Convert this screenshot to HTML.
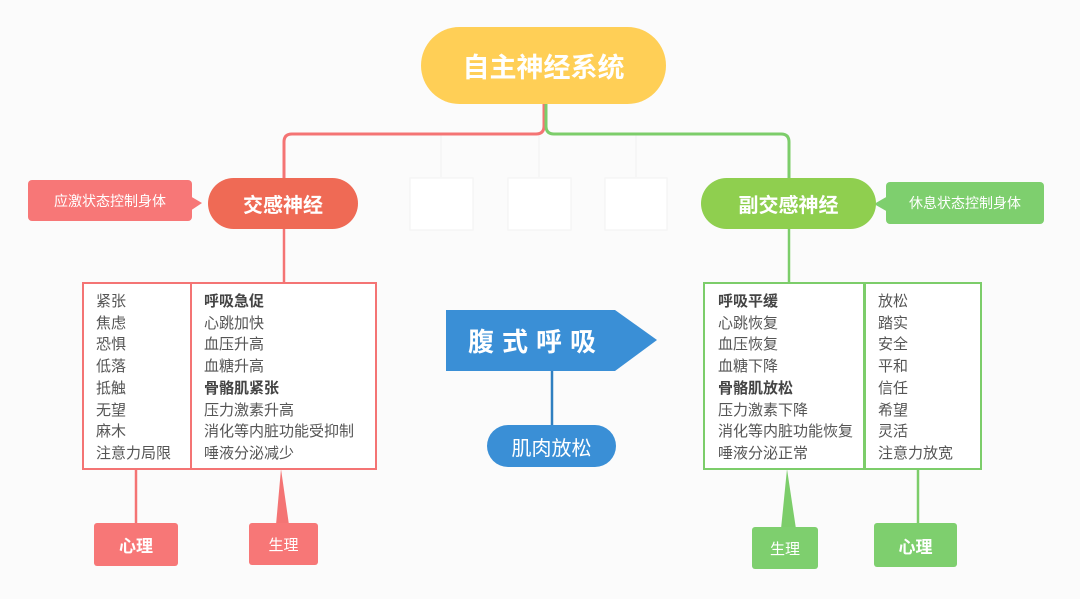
<!DOCTYPE html>
<html><head><meta charset="utf-8"><style>
body{margin:0;width:1080px;height:599px;background:#fbfbfb;overflow:hidden;font-family:"Liberation Sans","Noto Sans CJK SC",sans-serif;position:relative}
.a{position:absolute;box-sizing:border-box}
.c{display:flex;align-items:center;justify-content:center;color:#fff}
.box{position:absolute;box-sizing:border-box;background:#fff;font-size:15px;line-height:21.7px;color:#555;padding-top:7px}
b{color:#444}
</style></head><body>
<svg class="a" style="left:0;top:0" width="1080" height="599">
<g stroke="#f5f5f5" stroke-width="1.5" fill="none">
<path d="M441 134V178M539 134V178M636 134V178"/>
<rect x="410" y="178" width="63" height="52" fill="#fff"/><rect x="508" y="178" width="63" height="52" fill="#fff"/><rect x="605" y="178" width="62" height="52" fill="#fff"/>
</g>
<path d="M544 100V126Q544 134 536 134H292Q284 134 284 142V180" stroke="#f47474" stroke-width="3" fill="none"/>
<path d="M546 100V126Q546 134 554 134H781Q789 134 789 142V180" stroke="#7ccd6a" stroke-width="3" fill="none"/>
<path d="M284 229V283" stroke="#f47474" stroke-width="2.5"/>
<path d="M789 229V283" stroke="#7ccd6a" stroke-width="2.5"/>
<path d="M136 469V525" stroke="#f47474" stroke-width="2.5"/>
<path d="M281 469L276 525H289Z" fill="#f47474"/>
<path d="M918 469V525" stroke="#7ccd6a" stroke-width="2.5"/>
<path d="M787 469L781 529H796Z" fill="#7ccd6a"/>
<path d="M552 370V427" stroke="#2f7fc0" stroke-width="2.5"/>
<path d="M446 310H615L657 340L615 371H446Z" fill="#3a8fd6"/>
<path d="M190 196L202 203L190 211Z" fill="#f77777"/>
<path d="M888 196L874 204L888 212Z" fill="#7ecf6e"/>
</svg>
<div class="a c" style="left:421px;top:27px;width:245px;height:77px;border-radius:39px;background:#ffcf56;font-size:27px;font-weight:bold">自主神经系统</div>
<div class="a c" style="left:208px;top:178px;width:150px;height:51px;border-radius:26px;background:#ef6a55;font-size:20px;font-weight:bold">交感神经</div>
<div class="a c" style="left:28px;top:180px;width:164px;height:41px;border-radius:4px;background:#f77777;font-size:14px">应激状态控制身体</div>
<div class="a c" style="left:701px;top:178px;width:175px;height:51px;border-radius:26px;background:#8fcf4f;font-size:20px;font-weight:bold">副交感神经</div>
<div class="a c" style="left:886px;top:182px;width:158px;height:42px;border-radius:4px;background:#7ecf6e;font-size:14px">休息状态控制身体</div>
<div class="box" style="left:82px;top:282px;width:110px;height:188px;border:2px solid #f47474;padding-left:12px">紧张<br>焦虑<br>恐惧<br>低落<br>抵触<br>无望<br>麻木<br>注意力局限</div>
<div class="box" style="left:190px;top:282px;width:187px;height:188px;border:2px solid #f47474;padding-left:12px"><b>呼吸急促</b><br>心跳加快<br>血压升高<br>血糖升高<br><b>骨骼肌紧张</b><br>压力激素升高<br>消化等内脏功能受抑制<br>唾液分泌减少</div>
<div class="box" style="left:703px;top:282px;width:162px;height:188px;border:2px solid #7ccd6a;padding-left:13px"><b>呼吸平缓</b><br>心跳恢复<br>血压恢复<br>血糖下降<br><b>骨骼肌放松</b><br>压力激素下降<br>消化等内脏功能恢复<br>唾液分泌正常</div>
<div class="box" style="left:864px;top:282px;width:118px;height:188px;border:2px solid #7ccd6a;padding-left:12px">放松<br>踏实<br>安全<br>平和<br>信任<br>希望<br>灵活<br>注意力放宽</div>
<div class="a c" style="left:446px;top:310px;width:180px;height:61px;font-size:26px;font-weight:bold;letter-spacing:8px">腹式呼吸</div>
<div class="a c" style="left:487px;top:425px;width:129px;height:42px;border-radius:21px;background:#3a8fd6;font-size:20px">肌肉放松</div>
<div class="a c" style="left:94px;top:523px;width:84px;height:43px;border-radius:3px;background:#f77777;font-size:17px;font-weight:bold">心理</div>
<div class="a c" style="left:249px;top:523px;width:69px;height:42px;border-radius:3px;background:#f77777;font-size:15px">生理</div>
<div class="a c" style="left:752px;top:527px;width:66px;height:42px;border-radius:3px;background:#7ecf6e;font-size:15px">生理</div>
<div class="a c" style="left:874px;top:523px;width:83px;height:44px;border-radius:3px;background:#7ecf6e;font-size:17px;font-weight:bold">心理</div>
</body></html>
